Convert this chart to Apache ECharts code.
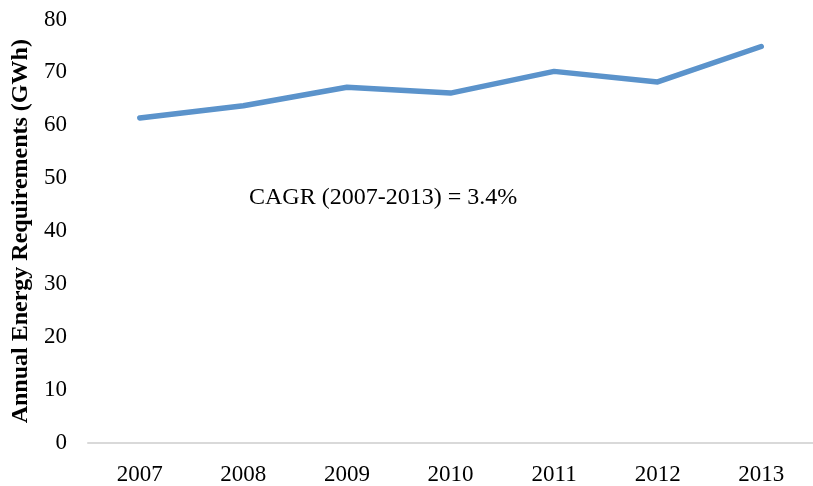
<!DOCTYPE html>
<html>
<head>
<meta charset="utf-8">
<script src="https://cdn.jsdelivr.net/npm/echarts@6/dist/echarts.min.js"></script>
<style>
  html, body { margin: 0; padding: 0; background: #fff; }
  #chart { width: 813px; height: 486px; }
</style>
</head>
<body>
<div id="chart"></div>
<script>
// 年份与年度能源需求 (GWh)
const years = ['2007', '2008', '2009', '2010', '2011', '2012', '2013']
const energy = [61.4, 63.7, 67.2, 66.1, 70.2, 68.2, 74.9]
const yTicks = { min: 0, max: 80, interval: 10 }
const note = 'CAGR (2007-2013) = 3.4%'

const serif = '"Liberation Serif", "Times New Roman", serif'
const chart = echarts.init(document.getElementById('chart'))

chart.setOption({
  animation: false,
  grid: { left: 88, right: -6, top: 19.5, bottom: 41 },
  xAxis: {
    type: 'category',
    data: years,
    axisLine: { lineStyle: { color: '#d9d9d9', width: 2 } },
    axisTick: { show: false },
    axisLabel: { color: '#000', fontFamily: serif, fontSize: 23, margin: 20 }
  },
  yAxis: {
    type: 'value',
    min: yTicks.min,
    max: yTicks.max,
    interval: yTicks.interval,
    name: 'Annual Energy Requirements (GWh)',
    nameLocation: 'middle',
    nameGap: 55,
    nameTextStyle: { color: '#000', fontFamily: serif, fontSize: 24, fontWeight: 'bold' },
    axisLine: { show: false },
    axisTick: { show: false },
    splitLine: { show: false },
    axisLabel: { color: '#000', fontFamily: serif, fontSize: 23, margin: 21, padding: [3, 0, 0, 0] }
  },
  series: [{
    type: 'line',
    data: energy,
    symbol: 'none',
    lineStyle: { color: '#5b93cb', width: 5.5, cap: 'round', join: 'round' }
  }],
  graphic: [{
    type: 'text',
    left: 249,
    top: 186,
    style: { text: note, fontFamily: serif, fontSize: 24, fill: '#000' }
  }]
})
</script>
</body>
</html>
